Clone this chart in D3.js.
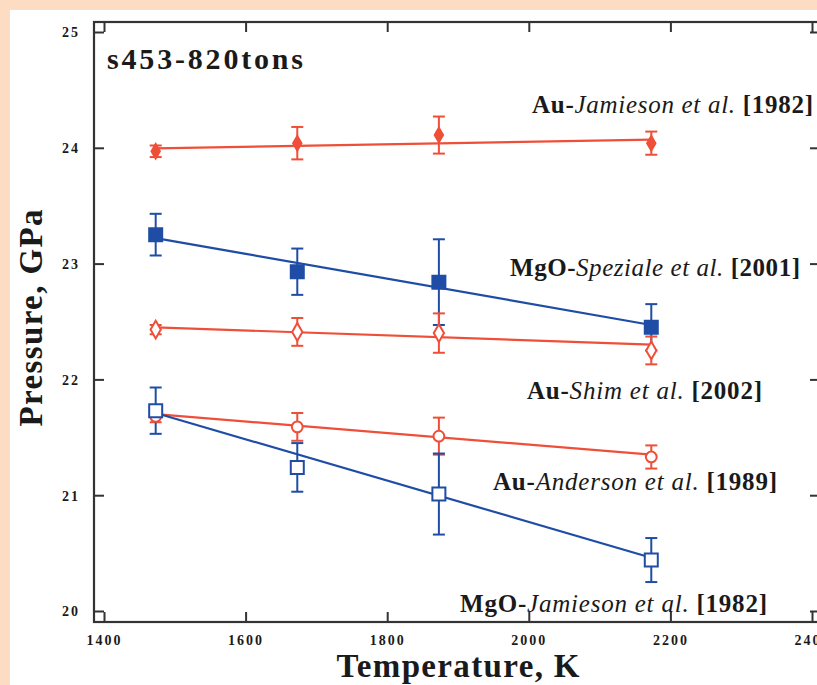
<!DOCTYPE html>
<html>
<head>
<meta charset="utf-8">
<script src="https://cdn.jsdelivr.net/npm/d3@7/dist/d3.min.js"></script>
<style>
  html, body { margin: 0; padding: 0; background: #fcdcc2; }
  svg { display: block; }
  text { font-family: "Liberation Serif", "Times New Roman", serif; fill: #1a1a1a; }
</style>
</head>
<body>
<svg id="chart" width="817" height="685"></svg>
<script>
// Temperatures of the heating steps (K)
const temperatures = [1473, 1673, 1873, 2173];

// Pressure (GPa) from each calibrant / scale, with 1-sigma errors
const auJamieson      = [23.97, 24.04, 24.11, 24.04];
const auJamiesonErr   = [0.05, 0.14, 0.16, 0.10];
const mgoSpeziale     = [23.25, 22.93, 22.84, 22.45];
const mgoSpezialeErr  = [0.18, 0.20, 0.37, 0.20];
const auShim          = [22.43, 22.41, 22.40, 22.25];
const auShimErr       = [0.04, 0.12, 0.17, 0.12];
const auAnderson      = [21.68, 21.59, 21.51, 21.33];
const auAndersonErr   = [0.05, 0.12, 0.16, 0.10];
const mgoJamieson     = [21.73, 21.24, 21.01, 20.44];
const mgoJamiesonErr  = [0.20, 0.21, 0.35, 0.19];

// Linear fit through each set, pressure at the first and last temperature
const fitTemps        = [1473, 2173];
const fitAuJamieson   = [23.995, 24.07];
const fitMgoSpeziale  = [23.22, 22.47];
const fitAuShim       = [22.45, 22.30];
const fitAuAnderson   = [21.70, 21.35];
const fitMgoJamieson  = [21.71, 20.46];

const xTicks = [1400, 1600, 1800, 2000, 2200, 2400];
const yTicks = [20, 21, 22, 23, 24, 25];

const RED = "#ef4f38";
const BLUE = "#1f4da6";

const series = [
  { name: "auJamieson",  vals: auJamieson,  err: auJamiesonErr,  fit: fitAuJamieson,  color: RED,  shape: "diamond", filled: true,  size: 9 },
  { name: "mgoSpeziale", vals: mgoSpeziale, err: mgoSpezialeErr, fit: fitMgoSpeziale, color: BLUE, shape: "square",  filled: true,  size: 13 },
  { name: "auShim",      vals: auShim,      err: auShimErr,      fit: fitAuShim,      color: RED,  shape: "diamond", filled: false, size: 11 },
  { name: "auAnderson",  vals: auAnderson,  err: auAndersonErr,  fit: fitAuAnderson,  color: RED,  shape: "circle",  filled: false, size: 11 },
  { name: "mgoJamieson", vals: mgoJamieson, err: mgoJamiesonErr, fit: fitMgoJamieson, color: BLUE, shape: "square",  filled: false, size: 13 }
];

const svg = d3.select("#chart");

// white page panel inside the peach border
svg.append("rect").attr("x", 10).attr("y", 10).attr("width", 807).attr("height", 675).attr("fill", "#ffffff");

const frame = { left: 94, right: 822, top: 22, bottom: 622 };
const x = d3.scaleLinear().domain([1400, 2400]).range([104, 812]);
const y = d3.scaleLinear().domain([20, 25]).range([611, 32]);

const AX = "#333333";

// axes with inward ticks on all four sides
function styleAxis(g) {
  g.select(".domain").remove();
  g.selectAll(".tick line").attr("stroke", AX).attr("stroke-width", 2);
}
svg.append("g").attr("transform", `translate(0,${frame.bottom})`)
  .call(d3.axisBottom(x).tickValues(xTicks).tickSize(-10).tickSizeOuter(0).tickFormat(d => d))
  .call(styleAxis)
  .call(g => g.selectAll(".tick text")
    .attr("y", 23).attr("dy", 0)
    .style("font-size", "14px").style("font-weight", "bold").style("letter-spacing", "2px")
    .style("font-family", "Liberation Serif, serif").attr("fill", "#222"));
svg.append("g").attr("transform", `translate(0,${frame.top})`)
  .call(d3.axisTop(x).tickValues(xTicks).tickSize(-10).tickSizeOuter(0).tickFormat(""))
  .call(styleAxis);
svg.append("g").attr("transform", `translate(${frame.left},0)`)
  .call(d3.axisLeft(y).tickValues(yTicks).tickSize(-10).tickSizeOuter(0).tickFormat(d => d))
  .call(styleAxis)
  .call(g => g.selectAll(".tick text")
    .attr("x", -14).attr("dy", "0.35em")
    .style("font-size", "14px").style("font-weight", "bold").style("letter-spacing", "2px")
    .style("font-family", "Liberation Serif, serif").attr("fill", "#222"));
svg.append("g").attr("transform", `translate(${frame.right},0)`)
  .call(d3.axisRight(y).tickValues(yTicks).tickSize(-12).tickSizeOuter(0).tickFormat(""))
  .call(styleAxis);

// plot frame
svg.append("rect")
  .attr("x", frame.left).attr("y", frame.top)
  .attr("width", frame.right - frame.left).attr("height", frame.bottom - frame.top)
  .attr("fill", "none").attr("stroke", AX).attr("stroke-width", 2.2);

const plot = svg.append("g");

// error bars
series.forEach(s => {
  const g = plot.append("g").attr("stroke", s.color).attr("stroke-width", 2).attr("fill", "none");
  s.vals.forEach((v, i) => {
    const cx = x(temperatures[i]);
    const y0 = y(v - s.err[i]), y1 = y(v + s.err[i]);
    g.append("line").attr("x1", cx).attr("x2", cx).attr("y1", y0).attr("y2", y1);
    g.append("line").attr("x1", cx - 6).attr("x2", cx + 6).attr("y1", y0).attr("y2", y0);
    g.append("line").attr("x1", cx - 6).attr("x2", cx + 6).attr("y1", y1).attr("y2", y1);
  });
});

// fit lines
const line = d3.line().x(d => x(d[0])).y(d => y(d[1]));
series.forEach(s => {
  plot.append("path")
    .datum(fitTemps.map((t, i) => [t, s.fit[i]]))
    .attr("d", line).attr("fill", "none").attr("stroke", s.color).attr("stroke-width", 2.2);
});

// markers
const shapes = { square: d3.symbolSquare, diamond: d3.symbolDiamond, circle: d3.symbolCircle };
series.forEach(s => {
  plot.append("g").selectAll("path")
    .data(s.vals.map((v, i) => [temperatures[i], v]))
    .join("path")
    .attr("transform", d => `translate(${x(d[0])},${y(d[1])})`)
    .attr("d", d3.symbol().type(shapes[s.shape]).size(s.size * s.size * (s.shape === "square" ? 1 : 0.75)))
    .attr("fill", s.filled ? s.color : "#ffffff")
    .attr("stroke", s.color).attr("stroke-width", 2);
});

// run label
svg.append("text").attr("x", 107).attr("y", 69)
  .attr("textLength", 196).attr("lengthAdjust", "spacing")
  .style("font-size", "30px").style("font-weight", "bold").text("s453-820tons");

// scale labels
const labels = [
  { x: 532, y: 113, w: 281, pre: "Au-",  ital: "Jamieson et al.", post: " [1982]" },
  { x: 510, y: 276, w: 290, pre: "MgO-", ital: "Speziale et al.", post: " [2001]" },
  { x: 527, y: 399, w: 235, pre: "Au-",  ital: "Shim et al.",     post: "  [2002]" },
  { x: 493, y: 490, w: 284, pre: "Au-",  ital: "Anderson et al.", post: " [1989]" },
  { x: 460, y: 612, w: 307, pre: "MgO-", ital: "Jamieson et al.", post: "  [1982]" }
];
labels.forEach(l => {
  const t = svg.append("text").attr("x", l.x).attr("y", l.y)
    .attr("textLength", l.w).attr("lengthAdjust", "spacing")
    .style("font-size", "25px");
  t.append("tspan").style("font-weight", "bold").text(l.pre);
  t.append("tspan").style("font-style", "italic").text(l.ital);
  t.append("tspan").style("font-weight", "bold").text(l.post);
});

// axis titles
svg.append("text").attr("x", 458).attr("y", 677).attr("text-anchor", "middle")
  .attr("textLength", 243).attr("lengthAdjust", "spacing")
  .style("font-size", "33px").style("font-weight", "bold").text("Temperature, K");
svg.append("text").attr("transform", "translate(42,318) rotate(-90)").attr("text-anchor", "middle")
  .attr("textLength", 217).attr("lengthAdjust", "spacing")
  .style("font-size", "33px").style("font-weight", "bold").text("Pressure, GPa");
</script>
</body>
</html>
